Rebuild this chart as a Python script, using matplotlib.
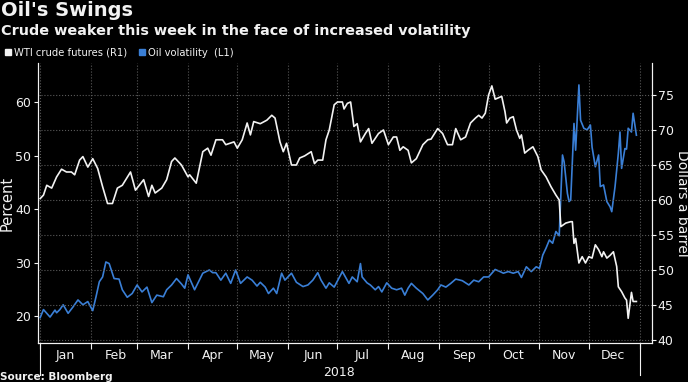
import matplotlib
matplotlib.use('Agg')
import matplotlib.pyplot as plt
import matplotlib.dates as mdates
from matplotlib.lines import Line2D
import pandas as pd

# WTI crude futures, dollars a barrel (right axis)
wti_days = [
    '01-01', '01-03', '01-05', '01-08', '01-11', '01-14', '01-17', '01-20', '01-22', '01-25',
    '01-27', '01-30', '02-02', '02-05', '02-08', '02-11', '02-14', '02-17', '02-20', '02-25',
    '02-28', '03-05', '03-08', '03-10', '03-12', '03-16', '03-19', '03-22', '03-24', '03-28',
    '04-01', '04-02', '04-06', '04-10', '04-13', '04-15', '04-18', '04-22', '04-24', '04-29',
    '05-01', '05-04', '05-07', '05-09', '05-11', '05-15', '05-19', '05-22', '05-24', '05-27',
    '05-29', '05-31', '06-03', '06-06', '06-08', '06-11', '06-15', '06-17', '06-19', '06-22',
    '06-24', '06-26', '06-29', '07-01', '07-04', '07-05', '07-07', '07-09', '07-11', '07-13',
    '07-15', '07-18', '07-20', '07-22', '07-26', '07-29', '08-01', '08-04', '08-06', '08-08',
    '08-10', '08-13', '08-15', '08-18', '08-22', '08-25', '08-27', '08-31', '09-03', '09-06',
    '09-09', '09-11', '09-14', '09-17', '09-20', '09-23', '09-25', '09-27', '09-29', '10-01',
    '10-03', '10-05', '10-09', '10-11', '10-12', '10-14', '10-16', '10-18', '10-20', '10-21',
    '10-23', '10-25', '10-28', '10-31', '11-02', '11-05', '11-08', '11-11', '11-13', '11-14',
    '11-17', '11-20', '11-21', '11-22', '11-23', '11-25', '11-27', '11-29', '12-01', '12-03',
    '12-05', '12-07', '12-09', '12-10', '12-12', '12-14', '12-16', '12-18', '12-19', '12-21',
    '12-23', '12-24', '12-25', '12-27', '12-28', '12-30',
]
wti_price = [
    60.2, 60.7, 62.1, 61.7, 63.3, 64.4, 64.0, 64.0, 63.6, 65.7,
    66.2, 64.7, 65.9, 64.5, 61.9, 59.5, 59.5, 61.7, 62.1, 64.0,
    61.4, 62.9, 60.5, 62.1, 61.0, 61.7, 62.9, 65.5, 66.0, 65.0,
    63.3, 63.6, 62.4, 66.9, 67.4, 66.4, 68.6, 68.6, 67.9, 68.3,
    67.4, 68.6, 71.0, 69.3, 71.2, 70.9, 71.4, 72.1, 71.7, 68.3,
    66.9, 68.1, 65.0, 65.0, 66.0, 66.3, 66.9, 65.2, 65.7, 65.7,
    68.6, 70.0, 73.6, 74.0, 74.0, 73.0, 73.8, 74.0, 70.5, 70.9,
    68.3, 69.5, 70.2, 68.1, 69.5, 70.0, 67.9, 69.0, 69.0, 67.1,
    67.6, 67.1, 65.3, 65.9, 67.9, 68.6, 68.7, 70.2, 69.5, 67.9,
    67.9, 70.2, 68.6, 69.0, 71.0, 71.7, 72.1, 71.7, 72.4, 75.0,
    76.3, 74.4, 74.8, 72.6, 71.0, 71.7, 71.9, 70.0, 68.8, 69.3,
    66.7, 67.1, 67.6, 66.2, 64.3, 63.3, 61.9, 60.7, 60.0, 56.2,
    56.7, 56.9, 56.9, 53.8, 54.5, 51.0, 51.9, 51.0, 51.9, 51.7,
    53.6, 52.9, 51.9, 52.6, 51.7, 52.1, 52.6, 50.5, 47.6, 46.9,
    46.0, 45.7, 43.1, 46.8, 45.5, 45.5,
]

# Oil volatility, percent (left axis)
vol_days = [
    '01-01', '01-03', '01-07', '01-10', '01-11', '01-13', '01-15', '01-18', '01-21', '01-24',
    '01-27', '01-30', '01-31', '02-02', '02-04', '02-06', '02-08', '02-10', '02-12', '02-15',
    '02-18', '02-20', '02-23', '02-26', '03-01', '03-04', '03-07', '03-10', '03-13', '03-17',
    '03-19', '03-22', '03-25', '03-28', '03-30', '04-01', '04-05', '04-10', '04-14', '04-16',
    '04-18', '04-21', '04-24', '04-27', '04-30', '05-03', '05-07', '05-10', '05-13', '05-15',
    '05-18', '05-20', '05-23', '05-25', '05-28', '05-30', '06-03', '06-06', '06-10', '06-13',
    '06-16', '06-19', '06-21', '06-24', '06-26', '06-29', '07-04', '07-08', '07-10', '07-13',
    '07-15', '07-16', '07-19', '07-21', '07-24', '07-26', '07-28', '07-31', '08-03', '08-06',
    '08-09', '08-11', '08-13', '08-15', '08-18', '08-22', '08-25', '08-28', '08-31', '09-02',
    '09-05', '09-08', '09-11', '09-15', '09-19', '09-22', '09-25', '09-28', '10-01', '10-05',
    '10-08', '10-10', '10-13', '10-16', '10-19', '10-21', '10-24', '10-27', '10-30', '11-01',
    '11-03', '11-05', '11-07', '11-09', '11-11', '11-13', '11-15', '11-16', '11-18', '11-19',
    '11-20', '11-22', '11-23', '11-25', '11-26', '11-28', '11-30', '12-02', '12-03', '12-05',
    '12-07', '12-08', '12-10', '12-12', '12-14', '12-15', '12-17', '12-19', '12-20', '12-21',
    '12-23', '12-24', '12-25', '12-27', '12-28', '12-30',
]
vol_pct = [
    19.7, 21.2, 19.8, 21.1, 20.6, 21.2, 22.1, 20.5, 21.7, 23.0,
    22.1, 22.7, 22.1, 21.0, 23.6, 26.4, 27.3, 30.1, 29.8, 27.0,
    26.9, 24.9, 23.5, 24.2, 25.8, 24.5, 25.4, 22.5, 23.9, 23.6,
    24.9, 25.8, 27.0, 26.0, 25.2, 27.7, 24.9, 28.0, 28.6, 28.1,
    28.1, 26.7, 28.0, 26.1, 28.6, 26.1, 27.3, 26.7, 25.6, 26.3,
    25.4, 24.2, 25.2, 24.2, 28.0, 26.7, 28.0, 26.3, 25.5, 25.8,
    26.7, 28.1, 26.7, 25.2, 26.2, 25.4, 28.3, 26.1, 27.3, 26.4,
    29.8, 27.3, 26.2, 25.8, 24.9, 25.5, 24.5, 26.2, 25.2, 24.9,
    25.2, 23.9, 25.2, 26.1, 25.2, 24.2, 23.0, 23.9, 24.9, 25.8,
    25.4, 26.1, 26.9, 26.6, 25.8, 26.7, 26.4, 27.3, 27.3, 28.7,
    28.3, 28.0, 28.3, 28.0, 28.3, 27.2, 29.2, 28.3, 29.2, 28.9,
    31.4, 32.7, 34.2, 33.6, 35.8, 35.0, 50.1, 48.8, 42.9, 41.4,
    41.7, 56.0, 51.0, 63.2, 56.6, 55.1, 54.8, 55.7, 51.6, 47.9,
    50.1, 44.2, 44.5, 41.4, 40.4, 39.5, 44.2, 50.4, 54.4, 47.6,
    51.3, 51.2, 55.1, 54.4, 57.9, 53.8,
]

months = ['Jan', 'Feb', 'Mar', 'Apr', 'May', 'Jun',
          'Jul', 'Aug', 'Sep', 'Oct', 'Nov', 'Dec']

WHITE = '#f2f2f2'
BLUE = '#3a7fd6'
GRID = '#5a5a5a'

plt.rcParams['font.family'] = ['DejaVu Sans']
plt.rcParams['text.color'] = WHITE

wti_dates = pd.to_datetime(['2018-' + d for d in wti_days])
vol_dates = pd.to_datetime(['2018-' + d for d in vol_days])

fig = plt.figure(figsize=(6.88, 3.82), dpi=100, facecolor='black')
ax = fig.add_axes([38 / 688, 39 / 382, 614 / 688, 280 / 382], facecolor='black')
ax2 = ax.twinx()

ax.plot(vol_dates, vol_pct, color=BLUE, lw=1.2, zorder=3)
ax2.plot(wti_dates, wti_price, color=WHITE, lw=1.2, zorder=3)

ax.set_xlim(pd.Timestamp('2017-12-30 16:00'), pd.Timestamp('2019-01-08 12:00'))
ax.set_ylim(14.95, 67.3)
ax2.set_ylim(39.57, 79.57)

# x axis: ticks on month boundaries, labels mid-month
ax.xaxis.set_major_locator(mdates.MonthLocator())
ax.xaxis.set_major_formatter(plt.NullFormatter())
ax.set_xticks(pd.to_datetime([f'2018-{m:02d}-16' for m in range(1, 13)]), minor=True)
ax.set_xticklabels(months, minor=True)
ax.tick_params(axis='x', which='major', length=4, color=WHITE, direction='out')
ax.tick_params(axis='x', which='minor', length=0, pad=4, labelsize=9, labelcolor=WHITE)
ax.grid(axis='x', which='major', color=GRID, ls=':', lw=0.8)

ax.set_yticks([20, 30, 40, 50, 60])
ax.tick_params(axis='y', length=3, color=WHITE, labelsize=9, labelcolor=WHITE, pad=2)
ax.set_ylabel('Percent', color=WHITE, fontsize=10.5, va='center')
ax.yaxis.set_label_coords(-0.05, 0.5)

ax2.set_yticks([40, 45, 50, 55, 60, 65, 70, 75])
ax2.tick_params(axis='y', length=3, color=WHITE, labelsize=9, labelcolor=WHITE, pad=1)
ax2.grid(axis='y', color=GRID, ls=':', lw=0.8)
ax2.set_ylabel('Dollars a barrel', color=WHITE, fontsize=10, rotation=270, va='center')
ax2.yaxis.set_label_coords(1.049, 0.5)

for a in (ax, ax2):
    a.spines['top'].set_visible(False)
    for s in ('left', 'right', 'bottom'):
        a.spines[s].set_color(WHITE)
        a.spines[s].set_linewidth(0.8)

# year separators and year label
for d in ('2018-01-01', '2019-01-01'):
    ax.plot([pd.Timestamp(d)] * 2, [0, -0.115], transform=ax.get_xaxis_transform(),
            color=WHITE, lw=0.8, clip_on=False)
ax.text(pd.Timestamp('2018-07-02'), -0.105, '2018', transform=ax.get_xaxis_transform(),
        ha='center', va='center', fontsize=9, color=WHITE)

# titles
fig.text(0.002, 0.972, "Oil's Swings", fontsize=14, fontweight='bold',
         ha='left', va='center')
fig.text(0.002, 0.918, 'Crude weaker this week in the face of increased volatility',
         fontsize=10.4, fontweight='bold', ha='left', va='center')

handles = [
    Line2D([], [], ls='none', marker='s', ms=4.5, color=WHITE),
    Line2D([], [], ls='none', marker='s', ms=4.5, color=BLUE),
]
fig.legend(handles, ['WTI crude futures (R1)', 'Oil volatility  (L1)'],
           loc='center left', bbox_to_anchor=(-0.006, 0.862), ncol=2, frameon=False,
           fontsize=7.2, handlelength=0.6, handletextpad=0.3, columnspacing=1.2,
           labelcolor=WHITE)

fig.text(0.0, 0.012, 'Source: Bloomberg', fontsize=7.5, fontweight='bold',
         ha='left', va='center')

fig.savefig('out.png', dpi=100, facecolor='black')
